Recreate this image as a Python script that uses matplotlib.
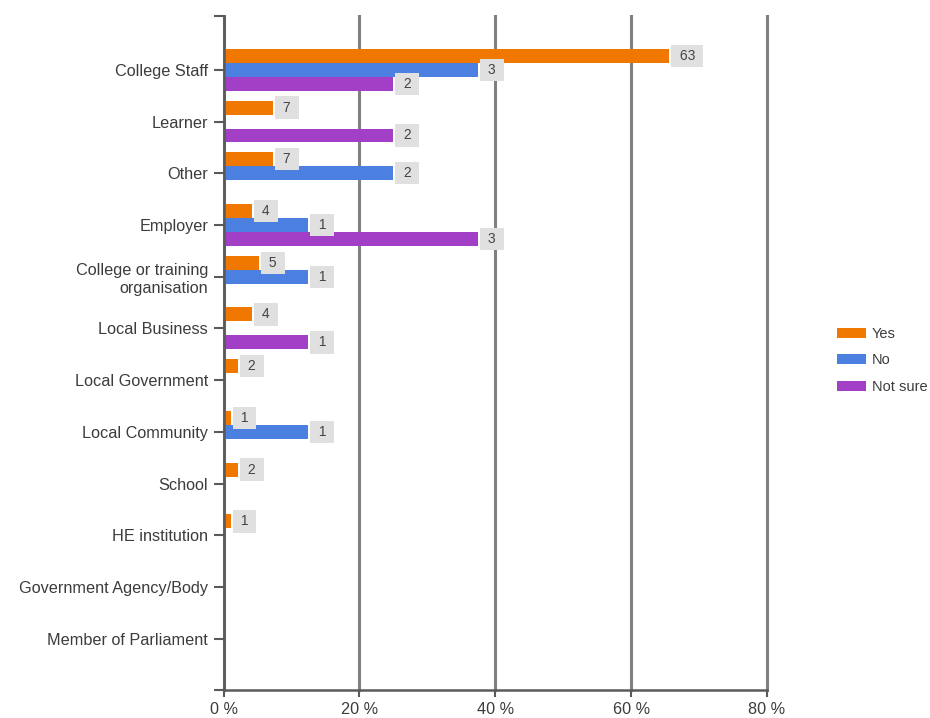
import matplotlib
matplotlib.use("Agg")
import matplotlib.pyplot as plt
from matplotlib.patches import Patch
import numpy as np

plt.rcParams['font.family'] = ['Liberation Sans', 'DejaVu Sans']

# Respondent groups, top to bottom
categories = [
    "College Staff", "Learner", "Other", "Employer",
    "College or training\norganisation", "Local Business",
    "Local Government", "Local Community", "School",
    "HE institution", "Government Agency/Body", "Member of Parliament",
]

# Response counts per group
yes_counts = [63, 7, 7, 4, 5, 4, 2, 1, 2, 1, 0, 0]
no_counts = [3, 0, 2, 1, 1, 0, 0, 1, 0, 0, 0, 0]
notsure_counts = [2, 2, 0, 3, 0, 1, 0, 0, 0, 0, 0, 0]

series_names = ["Yes", "No", "Not sure"]
series_colors = ["#F07800", "#4C80E0", "#A23FC6"]
x_ticks = [0, 20, 40, 60, 80]
x_tick_labels = ["0 %", "20 %", "40 %", "60 %", "80 %"]

W, H = 930, 718
fig = plt.figure(figsize=(W / 100, H / 100), dpi=100)
ax_left, ax_right, ax_top, ax_bottom = 223.5, 767, 16, 690
ax = fig.add_axes([ax_left / W, 1 - ax_bottom / H,
                   (ax_right - ax_left) / W, (ax_bottom - ax_top) / H])

y = np.arange(len(categories))
bar_h = 0.27
offsets = [-bar_h, 0.0, bar_h]
all_counts = [yes_counts, no_counts, notsure_counts]

for counts, off, color in zip(all_counts, offsets, series_colors):
    counts = np.array(counts, dtype=float)
    pct = counts / counts.sum() * 100.0
    ax.barh(y + off, pct, height=bar_h, color=color, zorder=2)
    for yi, p, c in zip(y, pct, counts):
        if c > 0:
            ax.annotate(f" {int(c)} ", xy=(p, yi + off), xytext=(6.2, 0),
                        textcoords="offset pixels", ha="left", va="center",
                        fontsize=10, color="#444444", zorder=4,
                        bbox=dict(boxstyle="square,pad=0.3", fc="#E0E0E0",
                                  ec="none"))

ax.set_xlim(0, 80)
ax.set_ylim(11.99, -1.04)

ax.set_xticks(x_ticks)
ax.set_xticklabels(x_tick_labels)
ax.set_yticks(y)
ax.set_yticklabels(categories)
ax.set_yticks([11.99, -1.04], minor=True)

ax.grid(axis="x", color="#808080", linewidth=2.2, zorder=0)
ax.set_axisbelow(True)
for gl in ax.get_xgridlines():
    gl.set_clip_on(False)

for s in ["top", "right"]:
    ax.spines[s].set_visible(False)
for s in ["left", "bottom"]:
    ax.spines[s].set_color("#5a5a5a")
    ax.spines[s].set_linewidth(1.8)
    ax.spines[s].set_zorder(3)

ax.tick_params(axis="y", which="both", length=7, width=1.5, color="#5a5a5a",
               pad=4, labelsize=11.7, labelcolor="#3c3c3c")
ax.tick_params(axis="x", length=5, width=1.5, color="#5a5a5a",
               pad=4, labelsize=11.7, labelcolor="#3c3c3c")

handles = [Patch(facecolor=c, edgecolor="none") for c in series_colors]
ax.legend(handles, series_names, loc="upper left",
          bbox_to_anchor=(837 / W, 1 - 327 / H), bbox_transform=fig.transFigure,
          frameon=False, fontsize=10.5, handlelength=2.0, handleheight=0.7,
          handletextpad=0.4, labelspacing=0.85, borderpad=0, borderaxespad=0,
          labelcolor="#3c3c3c")

fig.savefig("out.png", dpi=100)
